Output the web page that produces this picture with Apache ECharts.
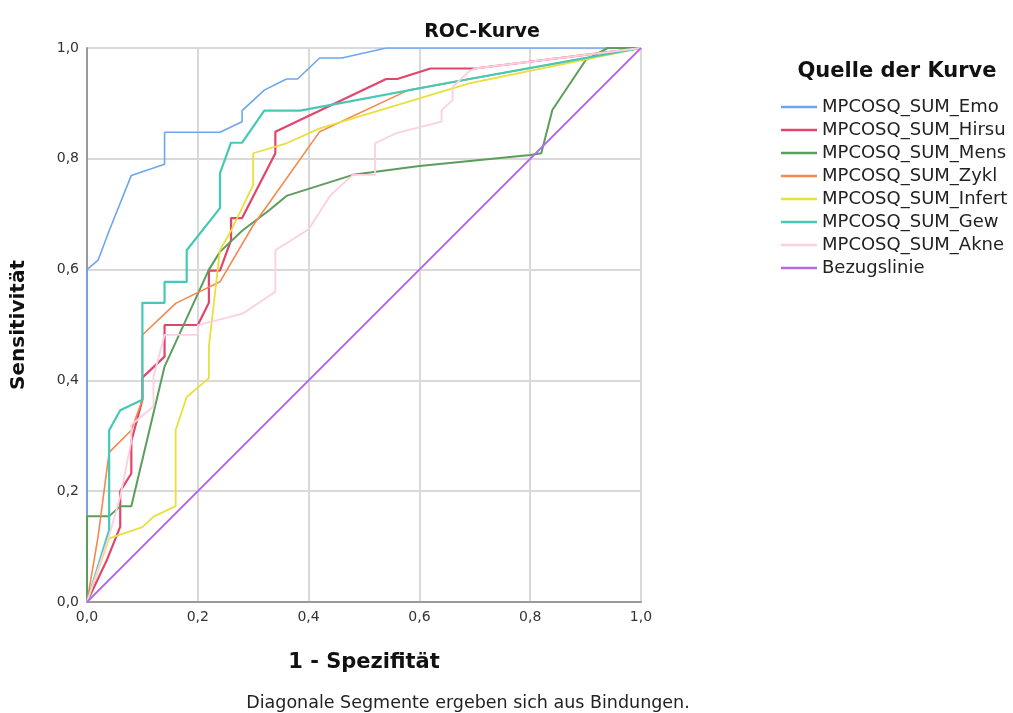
<!DOCTYPE html>
<html>
<head>
<meta charset="utf-8">
<script src="https://cdn.jsdelivr.net/npm/echarts@6/dist/echarts.min.js"></script>
<style>
  html, body { margin: 0; padding: 0; background: #fff; }
  #container { width: 1013px; height: 713px; }
</style>
</head>
<body>
<div id="container"></div>
<script>
// Ticks of both axes
const axisTicks = [0, 0.2, 0.4, 0.6, 0.8, 1.0];

// Curve names, in legend order
const curveNames = ['MPCOSQ_SUM_Emo', 'MPCOSQ_SUM_Hirsu', 'MPCOSQ_SUM_Mens', 'MPCOSQ_SUM_Zykl',
    'MPCOSQ_SUM_Infert', 'MPCOSQ_SUM_Gew', 'MPCOSQ_SUM_Akne', 'Bezugslinie'];

// [1 - Spezifität, Sensitivität]
const emo = [[0, 0], [0, 0.6], [0.02, 0.617], [0.04, 0.67], [0.08, 0.77], [0.14, 0.79], [0.14, 0.848],
    [0.24, 0.848], [0.28, 0.867], [0.28, 0.887], [0.32, 0.924], [0.36, 0.944], [0.38, 0.944],
    [0.42, 0.982], [0.46, 0.982], [0.54, 1], [1, 1]];
const hirsu = [[0, 0], [0.036, 0.076], [0.06, 0.136], [0.06, 0.2], [0.08, 0.232], [0.08, 0.29],
    [0.1, 0.365], [0.1, 0.405], [0.14, 0.443], [0.14, 0.5], [0.2, 0.5], [0.22, 0.54], [0.22, 0.598],
    [0.24, 0.598], [0.26, 0.653], [0.26, 0.693], [0.28, 0.693], [0.34, 0.81], [0.34, 0.849],
    [0.54, 0.944], [0.56, 0.944], [0.62, 0.963], [0.7, 0.963], [1, 1]];
const mens = [[0, 0], [0, 0.155], [0.04, 0.155], [0.06, 0.173], [0.08, 0.173], [0.14, 0.425],
    [0.22, 0.6], [0.24, 0.632], [0.28, 0.67], [0.33, 0.708], [0.36, 0.733], [0.48, 0.771],
    [0.6, 0.787], [0.8, 0.807], [0.82, 0.81], [0.84, 0.888], [0.9, 0.978], [0.94, 1], [1, 1]];
const zykl = [[0, 0], [0.02, 0.118], [0.04, 0.27], [0.08, 0.31], [0.1, 0.365], [0.1, 0.482],
    [0.16, 0.539], [0.24, 0.578], [0.3, 0.68], [0.33, 0.722], [0.42, 0.849], [0.58, 0.924], [1, 1]];
const infert = [[0, 0], [0.04, 0.115], [0.1, 0.135], [0.12, 0.154], [0.16, 0.173], [0.16, 0.31],
    [0.18, 0.37], [0.22, 0.404], [0.22, 0.461], [0.24, 0.635], [0.26, 0.67], [0.3, 0.753],
    [0.3, 0.81], [0.36, 0.828], [0.42, 0.855], [0.69, 0.936], [1, 1]];
const gew = [[0, 0], [0.04, 0.13], [0.04, 0.31], [0.06, 0.346], [0.1, 0.365], [0.1, 0.54],
    [0.14, 0.54], [0.14, 0.578], [0.18, 0.578], [0.18, 0.635], [0.24, 0.711], [0.24, 0.774],
    [0.26, 0.829], [0.28, 0.829], [0.32, 0.887], [0.385, 0.887], [0.69, 0.944], [1, 1]];
const akne = [[0, 0], [0.04, 0.12], [0.06, 0.19], [0.08, 0.29], [0.08, 0.32], [0.12, 0.353],
    [0.12, 0.407], [0.14, 0.482], [0.2, 0.482], [0.2, 0.5], [0.28, 0.52], [0.34, 0.56],
    [0.34, 0.635], [0.4, 0.673], [0.44, 0.735], [0.48, 0.771], [0.52, 0.771], [0.52, 0.828],
    [0.56, 0.847], [0.64, 0.867], [0.64, 0.888], [0.66, 0.906], [0.66, 0.93], [0.69, 0.958],
    [0.7, 0.963], [1, 1]];
const bezug = [[0, 0], [1, 1]];

const curveData = [emo, hirsu, mens, zykl, infert, gew, akne, bezug];
const curveColors = ['#6ea6ee', '#e2456a', '#5b9e5b', '#f4884f', '#e8e03c', '#45c9b5', '#fdcfe0', '#b168f0'];
const curveWidths = [1.6, 2.2, 2, 1.6, 1.8, 2.2, 1.8, 1.8];

const FONT = '"DejaVu Sans", sans-serif';

const chart = echarts.init(document.getElementById('container'), null, { renderer: 'canvas' });

const option = {
    backgroundColor: '#fff',
    animation: false,
    textStyle: { fontFamily: FONT },
    title: [
        {
            text: 'ROC-Kurve',
            left: 477, top: 18, textAlign: 'center',
            textStyle: { fontFamily: FONT, fontSize: 19, fontWeight: 'bold', color: '#111' }
        },
        {
            text: 'Quelle der Kurve',
            left: 892, top: 56, textAlign: 'center',
            textStyle: { fontFamily: FONT, fontSize: 21, fontWeight: 'bold', color: '#111' }
        }
    ],
    legend: {
        orient: 'vertical',
        left: 776,
        top: 93,
        icon: 'rect',
        itemWidth: 36,
        itemHeight: 2.5,
        itemGap: 5,
        selectedMode: false,
        data: curveNames,
        textStyle: { fontFamily: FONT, fontSize: 18, lineHeight: 18, color: '#222' }
    },
    grid: { left: 87, right: 372, top: 48, bottom: 111 },
    xAxis: {
        type: 'value',
        min: 0, max: 1, interval: 0.2,
        name: '1 - Spezifität',
        nameLocation: 'middle',
        nameGap: 50,
        nameTextStyle: { fontFamily: FONT, fontSize: 21, fontWeight: 'bold', color: '#111' },
        axisLine: { show: true, lineStyle: { color: '#9a9a9a', width: 2 } },
        axisTick: { show: false },
        axisLabel: {
            fontFamily: FONT, fontSize: 14, color: '#333', margin: 8,
            formatter: v => axisTicks.includes(+v.toFixed(1)) ? v.toFixed(1).replace('.', ',') : ''
        },
        splitLine: { show: true, lineStyle: { color: '#d9d9d9', width: 2 } }
    },
    yAxis: {
        type: 'value',
        min: 0, max: 1, interval: 0.2,
        name: 'Sensitivität',
        nameLocation: 'middle',
        nameGap: 58,
        nameTextStyle: { fontFamily: FONT, fontSize: 20, fontWeight: 'bold', color: '#111' },
        axisLine: { show: true, lineStyle: { color: '#9a9a9a', width: 2 } },
        axisTick: { show: false },
        axisLabel: {
            fontFamily: FONT, fontSize: 14, color: '#333', margin: 8,
            formatter: v => v.toFixed(1).replace('.', ',')
        },
        splitLine: { show: true, lineStyle: { color: '#d9d9d9', width: 2 } }
    },
    graphic: [
        {
            type: 'text',
            x: 468, y: 703,
            style: {
                text: 'Diagonale Segmente ergeben sich aus Bindungen.',
                font: '17.5px ' + FONT,
                fill: '#222',
                textAlign: 'center',
                textVerticalAlign: 'middle'
            }
        }
    ],
    series: curveNames.map((name, i) => ({
        name: name,
        type: 'line',
        data: curveData[i],
        symbol: 'none',
        color: curveColors[i],
        lineStyle: { width: curveWidths[i], color: curveColors[i] },
        z: 2 + i
    }))
};

chart.setOption(option);
window.addEventListener('resize', () => chart.resize());
</script>
</body>
</html>
